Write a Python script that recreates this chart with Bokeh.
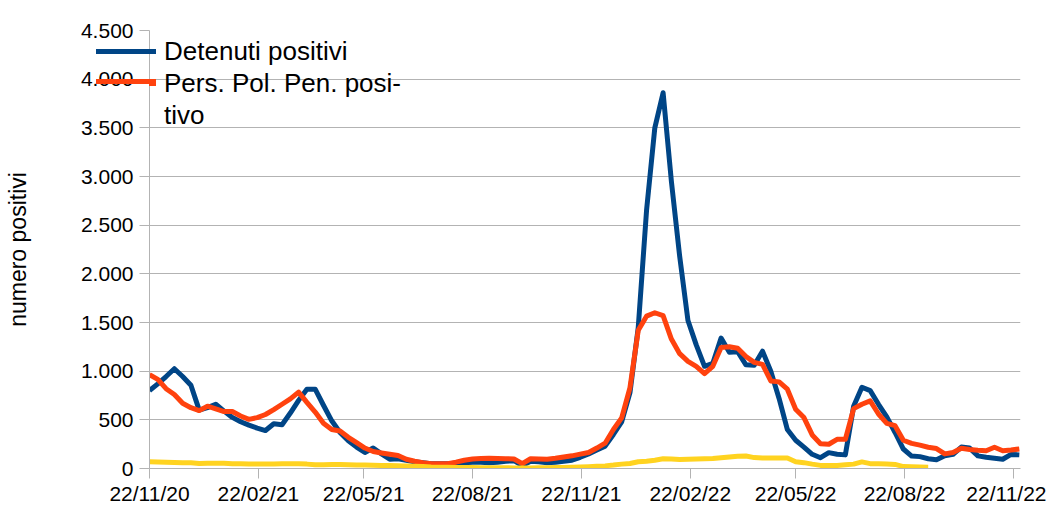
import pandas as pd
from bokeh.plotting import figure
from bokeh.models import (Range1d, FixedTicker, CustomJSTickFormatter, Legend, LegendItem,
                          InlineStyleSheet)
from bokeh.embed import file_html
from bokeh.resources import INLINE

# ---------------- data ----------------
start_date = "2020-11-22"

detenuti_positivi = [
    800, 870, 945, 1025, 945, 855, 600, 625, 660, 590,
    525, 480, 445, 415, 390, 460, 450, 570, 700, 815,
    815, 650, 490, 370, 285, 220, 165, 210, 150, 95,
    100, 85, 70, 60, 50, 50, 50, 55, 60, 65,
    65, 60, 65, 75, 80, 30, 75, 70, 60, 65,
    75, 85, 115, 150, 190, 230, 350, 480, 780, 1450,
    2650, 3500, 3860, 2950, 2180, 1520, 1270, 1050, 1080, 1340,
    1195, 1200, 1065, 1060, 1205, 1000, 720, 400, 290, 220,
    146, 111, 163, 146, 140, 640, 835, 800, 660, 530,
    370, 200, 128, 122, 100, 90, 130, 145, 220, 210,
    130, 115, 105, 95, 145, 140,
]

pers_pol_pen_positivo = [
    965, 915, 820, 760, 670, 625, 595, 640, 612, 585,
    585, 540, 505, 523, 555, 605, 660, 715, 785, 680,
    580, 465, 400, 385, 320, 265, 210, 175, 160, 146,
    133, 95, 75, 60, 50, 50, 50, 65, 85, 97,
    103, 105, 103, 100, 98, 50, 100, 97, 95, 105,
    118, 130, 148, 165, 210, 260, 400, 520, 830, 1420,
    1565, 1600, 1570, 1330, 1180, 1100, 1050, 975, 1050, 1243,
    1250, 1236, 1150, 1090, 1070, 900, 890, 815, 609, 523,
    345, 255, 249, 300, 300, 615, 660, 695, 560, 464,
    440, 290, 258, 240, 218, 205, 150, 165, 208, 195,
    188, 183, 218, 183, 190, 201,
]

terza_serie = [
    70, 68, 65, 62, 60, 58, 52, 55, 55, 53,
    50, 48, 47, 46, 47, 47, 48, 50, 50, 45,
    38, 38, 40, 40, 38, 36, 35, 33, 32, 30,
    28, 26, 24, 20, 16, 14, 12, 10, 10, 10,
    8, 8, 7, 7, 6, 6, 6, 7, 8, 9,
    10, 12, 15, 18, 22, 27, 35, 45, 52, 70,
    75, 85, 100, 98, 92, 95, 98, 100, 102, 110,
    118, 125, 128, 112, 108, 108, 108, 108, 70, 60,
    45, 32, 30, 32, 38, 45, 68, 50, 48, 45,
    42, 20, 18, 16, 14,
]

x_tick_dates = ["2020-11-22", "2021-02-22", "2021-05-22", "2021-08-22", "2021-11-22",
                "2022-02-22", "2022-05-22", "2022-08-22", "2022-11-22"]
y_tick_values = [0, 500, 1000, 1500, 2000, 2500, 3000, 3500, 4000, 4500]

legend_labels = ["Detenuti positivi", "Pers. Pol. Pen. posi-", "tivo"]
y_title = "numero positivi"

BLUE = "#004586"
ORANGE = "#ff420e"
YELLOW = "#ffd320"

# ---------------- figure ----------------
dates = pd.date_range(start_date, periods=len(detenuti_positivi), freq="7D")

FONT = "Liberation Sans"
GRID = "#b3b3b3"

p = figure(width=1046, height=507, x_axis_type="datetime",
           x_range=Range1d(pd.Timestamp("2020-11-22"), pd.Timestamp("2022-11-28")),
           y_range=Range1d(0, 4500),
           output_backend="svg", toolbar_location=None,
           min_border_left=149, min_border_right=26, min_border_top=30, min_border_bottom=39)
p.outline_line_color = None
p.background_fill_color = "white"
p.xgrid.grid_line_color = None
p.ygrid.grid_line_color = GRID
p.ygrid.ticker = FixedTicker(ticks=y_tick_values)

rb = p.line(dates, detenuti_positivi, line_color=BLUE, line_width=5, line_join="round")
ro = p.line(dates, pers_pol_pen_positivo, line_color=ORANGE, line_width=5, line_join="round")
ry = p.line(dates[:len(terza_serie)], terza_serie, line_color=YELLOW, line_width=5, line_join="round")
r_tivo = p.line(dates[:1], terza_serie[:1], line_alpha=0)

# y axis
ya = p.yaxis[0]
ya.ticker = FixedTicker(ticks=y_tick_values)
ya.formatter = CustomJSTickFormatter(code="""
    const s = Math.round(tick).toString();
    return s.replace(/\\B(?=(\\d{3})+(?!\\d))/g, '.');
""")
ya.major_tick_out = 10
ya.major_tick_in = 0
ya.minor_tick_line_color = None
ya.axis_line_color = GRID
ya.major_tick_line_color = GRID
ya.major_label_text_font = FONT
ya.major_label_text_font_size = "21px"
ya.major_label_text_color = "black"
ya.major_label_standoff = 6
ya.axis_label = y_title
ya.axis_label_text_font = FONT
ya.axis_label_text_font_size = "23px"
ya.axis_label_text_font_style = "normal"
ya.axis_label_text_color = "black"
ya.axis_label_standoff = 47

# x axis
xa = p.xaxis[0]
xa.ticker = FixedTicker(ticks=[pd.Timestamp(d).timestamp() * 1000 for d in x_tick_dates])
xa.formatter = CustomJSTickFormatter(code="""
    const d = new Date(tick);
    const dd = String(d.getUTCDate()).padStart(2, '0');
    const mm = String(d.getUTCMonth() + 1).padStart(2, '0');
    const yy = String(d.getUTCFullYear() % 100).padStart(2, '0');
    return dd + '/' + mm + '/' + yy;
""")
xa.major_tick_out = 10
xa.major_tick_in = 0
xa.minor_tick_line_color = None
xa.axis_line_color = GRID
xa.major_tick_line_color = GRID
xa.major_label_text_font = "Liberation Sans Narrow, Liberation Sans"
xa.major_label_text_font_size = "21px"
xa.major_label_text_color = "black"
xa.major_label_standoff = 3

# legend (its glyph part left of the frame gets clipped by Bokeh; the swatches are
# completed with host pseudo-elements below)
legend = Legend(items=[LegendItem(label=legend_labels[0], renderers=[rb]),
                       LegendItem(label=legend_labels[1], renderers=[ro]),
                       LegendItem(label=legend_labels[2], renderers=[r_tivo])],
                location=(-53, 337), orientation="vertical",
                label_text_font=FONT, label_text_font_size="26px", label_text_color="black",
                glyph_width=60, glyph_height=32, label_height=32, label_standoff=8,
                spacing=0, padding=0, margin=0,
                border_line_color=None, background_fill_alpha=0)
p.add_layout(legend)

swatch_css = f"""
:host::before, :host::after {{
  content: "";
  position: absolute;
  left: 96px;
  width: 60px;
  height: 5px;
  z-index: 100;
  pointer-events: none;
}}
:host::before {{ top: 49px; background: {BLUE}; }}
:host::after  {{ top: 79px; background: {ORANGE}; }}
"""
p.stylesheets = [InlineStyleSheet(css=swatch_css)]

open("out.html", "w").write(file_html(p, INLINE))
